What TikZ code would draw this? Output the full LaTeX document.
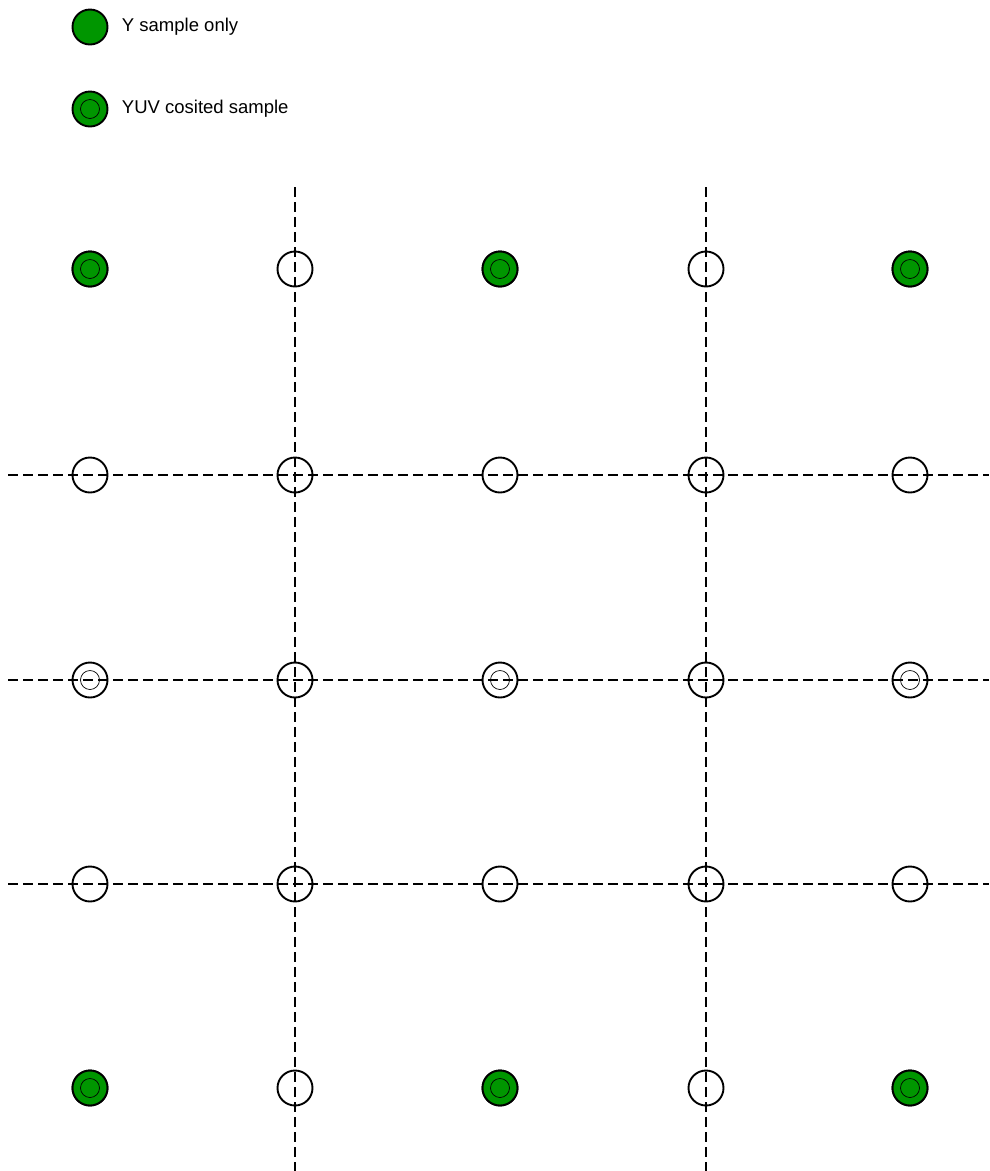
\documentclass[tikz,border=0pt]{standalone}
\usepackage{fontspec}
\setmainfont{Liberation Sans}
\usepackage{tikz}
\usetikzlibrary{positioning}
\definecolor{ygreen}{RGB}{0,150,0}
\tikzset{
  smp/.style={circle,draw=black,line width=1.9pt,minimum size=35pt,inner sep=0pt},
  smpy/.style={smp,fill=ygreen},
  inner/.style={circle,draw=black,line width=0.7pt,minimum size=19pt,inner sep=0pt},
  grid/.style={dashed,dash pattern=on 10pt off 5pt,line width=1.4pt},
  lgd/.style={font=\fontsize{18.5}{22}\selectfont,anchor=west},
}

\begin{document}
\begin{tikzpicture}[x=1pt,y=-1pt]
  \useasboundingbox (0,0) rectangle (989,1171);
  % legend
  \node[smpy](ly) at (90,27){};
  \node[lgd,right=10pt of ly](lyt){Y sample only};
  \node[smpy](lc) at (90,109){};
  \node[inner] at (lc){};
  \node[lgd,right=10pt of lc](lct){YUV cosited sample};
  % grid lines
  \foreach \x/\n in {295/a,706/b}{
    \coordinate(v\n t) at (\x,187);
    \coordinate(v\n b) at (\x,1171);
    \draw[grid](v\n t)--(v\n b);
  }
  \foreach \y/\n in {475/a,680/b,884/c}{
    \coordinate(h\n l) at (8,\y);
    \coordinate(h\n r) at (989,\y);
    \draw[grid](h\n l)--(h\n r);
  }
  % samples
  \foreach \x [count=\i] in {90,295,500,706,910}{
    \foreach \y [count=\j] in {269,475,680,884,1088}{
      \node[smp](s\i\j) at (\x,\y){};
    }
  }
  \foreach \i in {1,3,5}{
    \foreach \j in {1,5}{
      \node[smpy] at (s\i\j){};
      \node[inner] at (s\i\j){};
    }
    \node[inner] at (s\i3){};
  }
\end{tikzpicture}
\end{document}
